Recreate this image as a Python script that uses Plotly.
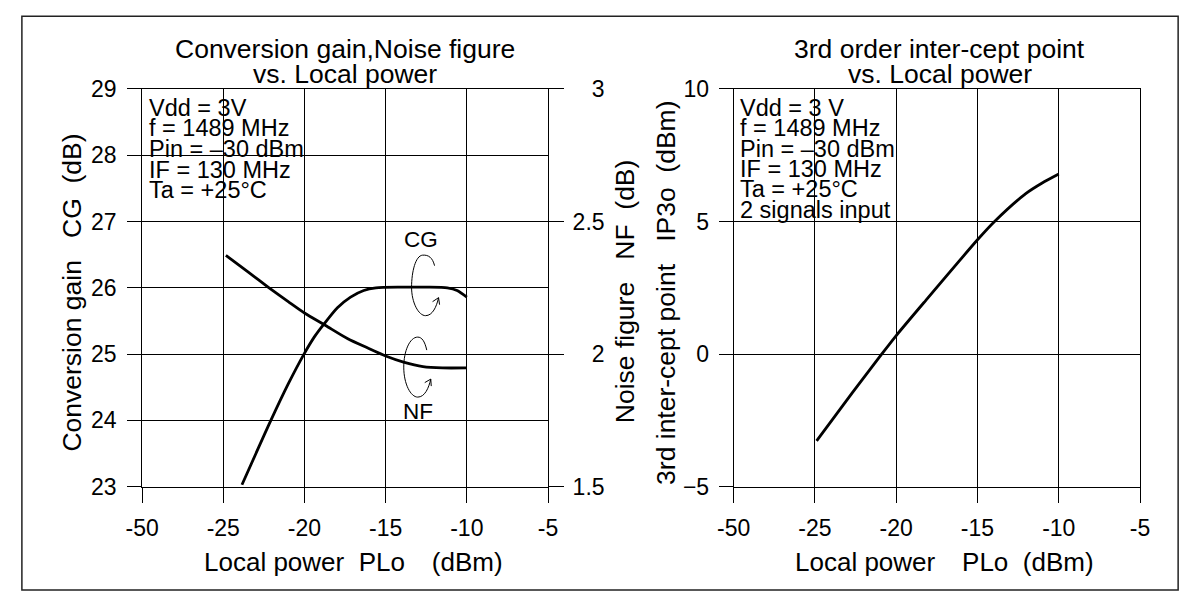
import plotly.graph_objects as go

W, H = 1194, 605

# ---------------- data ----------------
# x axis has a break: the first slot (position -30) carries the "-50" label
plo_tickvals = [-30, -25, -20, -15, -10, -5]
plo_ticktext = ["-50", "-25", "-20", "-15", "-10", "-5"]

cg_tickvals = [23, 24, 25, 26, 27, 28, 29]
nf_tickvals = [1.5, 2.0, 2.5, 3.0]
nf_ticktext = ["1.5", "\u00a0\u00a0\u00a02", "2.5", "\u00a0\u00a0\u00a03"]
ip3_tickvals = [-5, 0, 5, 10]

# Conversion gain CG (dB) vs local power (dBm)
cg_plo = [-23.85, -22.07, -21.0, -20.03, -19.39, -18.78, -17.97, -17.16,
          -16.35, -15.6, -14.0, -12.5, -11.2, -10.6, -10.0]
cg_db = [23.03, 24.0, 24.55, 25.0, 25.26, 25.46, 25.70, 25.86,
         25.96, 26.0, 26.01, 26.01, 26.0, 25.96, 25.86]

# Noise figure NF (dB) vs local power (dBm)
nf_plo = [-24.84, -23.5, -22.18, -21.0, -20.0, -18.7, -17.33, -16.1,
          -15.0, -13.9, -12.7, -11.5, -10.0]
nf_db = [2.372, 2.311, 2.25, 2.198, 2.155, 2.108, 2.058, 2.023,
         1.993, 1.970, 1.953, 1.948, 1.948]

# 3rd order intercept point IP3o (dBm) vs local power (dBm)
ip3_plo = [-24.9, -22.72, -20.92, -20.0, -18.19, -15.0, -13.95, -12.03, -11.02, -10.0]
ip3_dbm = [-3.27, -1.47, -0.02, 0.70, 2.02, 4.31, 5.0, 6.05, 6.45, 6.79]

left_conditions = ["Vdd = 3V", "f = 1489 MHz", "Pin = \u201330 dBm",
                   "IF = 130 MHz", "Ta = +25\u00b0C"]
right_conditions = ["Vdd = 3 V", "f = 1489 MHz", "Pin = \u201330 dBm",
                    "IF = 130 MHz", "Ta = +25\u00b0C", "2 signals input"]

FONT = "Liberation Sans, Arial, Helvetica, sans-serif"
NB = "\u00a0"
TH = "\u2009"


def px_x(px):
    return px / W


def px_y(py):
    return 1 - py / H


fig = go.Figure()

line_style = dict(color="black", width=2.8, shape="spline", smoothing=0.7)
fig.add_trace(go.Scatter(x=cg_plo, y=cg_db, mode="lines", xaxis="x", yaxis="y", line=line_style))
fig.add_trace(go.Scatter(x=nf_plo, y=nf_db, mode="lines", xaxis="x", yaxis="y2", line=line_style))
fig.add_trace(go.Scatter(x=ip3_plo, y=ip3_dbm, mode="lines", xaxis="x2", yaxis="y3", line=line_style))

ydom = [px_y(495), px_y(79.3)]
tickfont = dict(family=FONT, size=23, color="black")
common_x = dict(range=[-30, -5], tickvals=plo_tickvals, ticktext=plo_ticktext,
                showgrid=True, gridcolor="black", gridwidth=1, zeroline=False,
                showline=True, linecolor="black", linewidth=1, mirror=True,
                ticks="outside", ticklen=15, tickcolor="black", tickfont=tickfont,
                ticklabelstandoff=6)
common_y = dict(showgrid=True, gridcolor="black", gridwidth=1, zeroline=False,
                showline=True, linecolor="black", linewidth=1, mirror=True,
                ticks="outside", ticklen=14, tickcolor="black", tickfont=tickfont)

fig.update_layout(
    width=W, height=H,
    margin=dict(l=0, r=0, t=0, b=0),
    paper_bgcolor="white", plot_bgcolor="white",
    showlegend=False,
    font=dict(family=FONT, color="black"),
    xaxis=dict(domain=[px_x(128), px_x(543.3)], anchor="y", **common_x),
    yaxis=dict(domain=ydom, anchor="x", range=[23, 29], tickvals=cg_tickvals,
               ticklabelstandoff=6, **common_y),
    yaxis2=dict(overlaying="y", anchor="x", side="right", range=[1.5, 3],
                tickvals=nf_tickvals, ticktext=nf_ticktext, showgrid=False, zeroline=False,
                showline=True, linecolor="black", linewidth=1,
                ticks="outside", ticklen=15, tickcolor="black", tickfont=tickfont,
                ticklabelstandoff=4),
    xaxis2=dict(domain=[px_x(733.3), px_x(1149)], anchor="y3", **common_x),
    yaxis3=dict(domain=ydom, anchor="x2", range=[-5, 10], tickvals=ip3_tickvals,
                ticklabelstandoff=5, **common_y),
)

shapes = []
# outer frame
shapes.append(dict(type="rect", xref="paper", yref="paper",
                   x0=px_x(5), x1=px_x(1188), y0=px_y(603), y1=px_y(3.3),
                   line=dict(color="#222", width=1.5), fillcolor="rgba(0,0,0,0)"))
# white boxes behind condition text
shapes.append(dict(type="rect", xref="paper", yref="paper", layer="between",
                   x0=px_x(133), x1=px_x(302), y0=px_y(203), y1=px_y(85),
                   line=dict(width=0), fillcolor="white"))
shapes.append(dict(type="rect", xref="paper", yref="paper", layer="between",
                   x0=px_x(738), x1=px_x(910), y0=px_y(227), y1=px_y(85),
                   line=dict(width=0), fillcolor="white"))

# curly arrows for CG (left axis) and NF (right axis)
cg_loop = ("M 10,22 C 8,30 4,33 -2,32.5 C -9,32 -13,16 -13,0.5 "
           "C -13,-15 -6,-28 1,-28 C 8,-28 12,-19 14,-10")
cg_head = "M 8,-14 L 14,-10 L 15,-17"
nf_loop = ("M 10,17 C 8,26 5,30 1,30 C -7,30 -13,16 -13,0 "
           "C -13,-17 -6,-30 1,-30 C 8,-30 12,-21 14,-12")
nf_head = "M 8,-15.5 L 14,-12 L 14.5,-19"
for path, cx, cy in [(cg_loop, 417, 287), (cg_head, 417, 287),
                     (nf_loop, 409, 370), (nf_head, 409, 370)]:
    shapes.append(dict(type="path", xref="paper", yref="paper",
                       xsizemode="pixel", ysizemode="pixel",
                       xanchor=px_x(cx), yanchor=px_y(cy), path=path,
                       line=dict(color="black", width=1)))
fig.update_layout(shapes=shapes)

ann = []


def text(s, x, y, size, xanchor="center", yanchor="middle", angle=0):
    ann.append(dict(text=s, x=px_x(x), y=px_y(y), xref="paper", yref="paper",
                    xanchor=xanchor, yanchor=yanchor, showarrow=False, textangle=angle,
                    font=dict(family=FONT, size=size, color="black")))


def baseline_text(s, x, baseline, size, xanchor="center"):
    text(s, x, baseline - 0.35 * size, size, xanchor=xanchor)


# chart titles
baseline_text("Conversion gain,Noise figure", 335.5, 46.7, 26.5)
baseline_text("vs. Local power", 335.5, 72.7, 26.5)
baseline_text("3rd order inter-cept point", 944, 46.7, 26.5)
baseline_text("vs. Local power", 944, 72.7, 26.5)

# condition text
for i, s in enumerate(left_conditions):
    baseline_text(s, 133, 107.3 + 21.5 * i, 23.5, xanchor="left")
for i, s in enumerate(right_conditions):
    baseline_text(s, 738, 107.3 + 21.3 * i, 23.5, xanchor="left")

# curve labels
text("CG", 413, 237, 22.5)
text("NF", 410, 416, 22.5)

# axis titles
text("Local power" + NB * 2 + "PLo" + NB * 3 + TH + "(dBm)", 343.8, 582.7 - 9.1, 26)
text("Local power" + NB * 3 + TH + "PLo" + NB * 2 + "(dBm)", 949, 582.7 - 9.1, 26)
text("Conversion gain" + NB * 3 + "CG" + NB * 2 + "(dB)", 56, 292.4, 26.5, angle=-90)
text("Noise figure" + NB * 3 + "NF" + NB * 2 + "(dB)", 622, 290.8, 26.5, angle=-90)
text("3rd inter-cept point" + NB * 3 + "IP3o" + NB * 2 + "(dBm)", 664, 292.5, 26.5, angle=-90)

fig.update_layout(annotations=ann)

fig.write_html("out.html")
